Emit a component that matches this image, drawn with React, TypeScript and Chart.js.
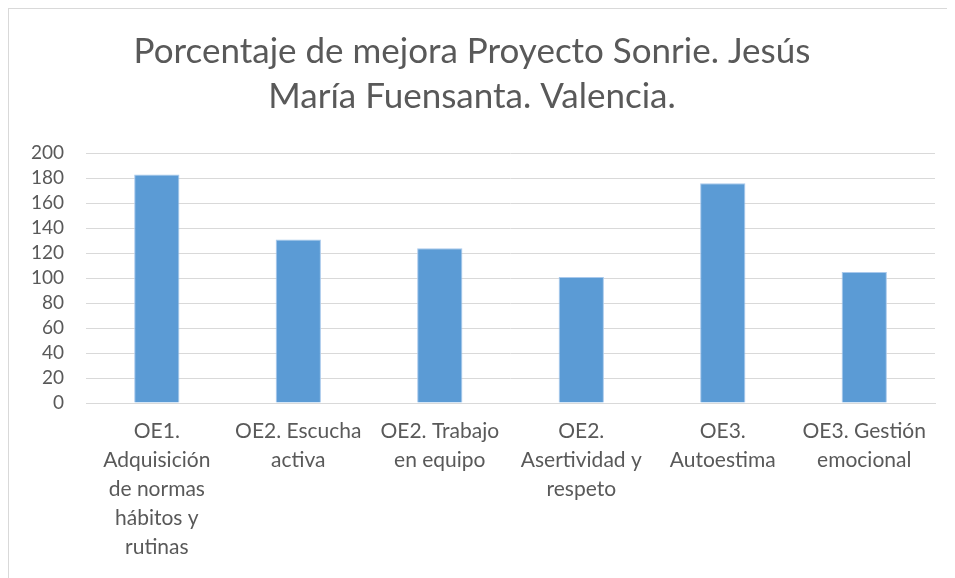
import React, { useEffect, useRef } from "react";
import { Chart, registerables } from "chart.js";

Chart.register(...registerables);

const titleLines = ["Porcentaje de mejora Proyecto Sonrie. Jesús", "María Fuensanta. Valencia."];
const categories: string[][] = [
  ["OE1.", "Adquisición", "de normas", "hábitos y", "rutinas"],
  ["OE2. Escucha", "activa"],
  ["OE2. Trabajo", "en equipo"],
  ["OE2.", "Asertividad y", "respeto"],
  ["OE3.", "Autoestima"],
  ["OE3. Gestión", "emocional"],
];
const values = [183, 131, 124, 101, 176, 105];
const yMin = 0;
const yMax = 200;
const yStep = 20;

const FONT = "Lato, 'Open Sans', sans-serif";
const TEXT = "#595959";

export default function App() {
  const ref = useRef<HTMLCanvasElement | null>(null);
  useEffect(() => {
    if (!ref.current) return;
    const chart = new Chart(ref.current, {
      type: "bar",
      data: {
        labels: categories,
        datasets: [
          {
            data: values,
            backgroundColor: "#5b9bd5",
            borderColor: "#a9c9ec",
            borderWidth: 1,
            categoryPercentage: 1,
            barPercentage: 0.32,
          },
        ],
      },
      options: {
        animation: false,
        responsive: true,
        maintainAspectRatio: false,
        layout: { padding: { left: 0, right: 20, top: 20, bottom: 2 } },
        plugins: {
          legend: { display: false },
          tooltip: { enabled: false },
          title: {
            display: true,
            text: titleLines,
            color: TEXT,
            font: { family: FONT, size: 35, weight: "normal", lineHeight: 1.29 },
            padding: { top: 0, bottom: 34 },
          },
        },
        scales: {
          y: {
            min: yMin,
            max: yMax,
            ticks: {
              stepSize: yStep,
              autoSkip: false,
              color: TEXT,
              font: { family: FONT, size: 19, lineHeight: 1.0 },
              padding: 22,
            },
            grid: { color: "#d9d9d9", lineWidth: 1, drawTicks: false },
            border: { display: false },
          },
          x: {
            ticks: {
              color: TEXT,
              font: { family: FONT, size: 21, lineHeight: 1.38 },
              maxRotation: 0,
              minRotation: 0,
              autoSkip: false,
              padding: 14,
            },
            grid: { display: false, drawTicks: false },
            border: { color: "#d9d9d9" },
          },
        },
      },
    });
    return () => chart.destroy();
  }, []);
  return (
    <div
      style={{
        width: 947,
        height: 570,
        borderTop: "1px solid #d9d9d9",
        borderLeft: "1px solid #d9d9d9",
        boxSizing: "border-box",
        position: "relative",
      }}
    >
      <canvas ref={ref} />
    </div>
  );
}
